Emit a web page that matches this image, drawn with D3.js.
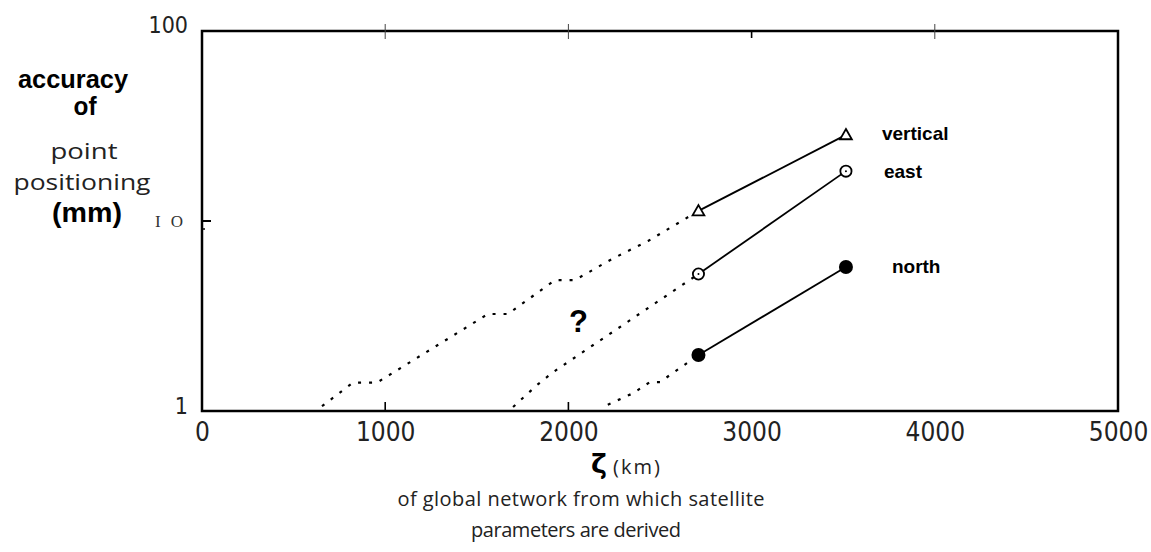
<!DOCTYPE html>
<html>
<head>
<meta charset="utf-8">
<script src="https://cdn.jsdelivr.net/npm/d3@7"></script>
<style>
  body { margin:0; background:#fff; }
  .tick-label { font-family:"Liberation Sans Narrow","DejaVu Sans Condensed",sans-serif; font-size:26px; fill:#222; }
  .thin { font-family:"Open Sans","DejaVu Sans",sans-serif; fill:#222; }
  .bold { font-family:"Liberation Sans",Arial,sans-serif; font-weight:bold; fill:#000; }
</style>
</head>
<body>
<div class="canvas"></div>
<script>
var pageWidth = 1151,
    pageHeight = 552;
var margins = {t:31,r:33,b:141,l:202};
var plotWidth = pageWidth - margins.l - margins.r,
    plotHeight = pageHeight - margins.t - margins.b;

// data
var seriesNames = ['vertical','east','north'];
var measuredKm = [2710, 3515];
var verticalMm = [11.3, 28.4];
var eastMm = [5.26, 18.3];
var northMm = [1.97, 5.73];

// dotted "?" extrapolations
var verticalGuessKm = [655, 824, 955, 1561, 1670, 1927, 2036, 2238, 2435, 2710];
var verticalGuessMm = [1.06, 1.41, 1.41, 3.24, 3.24, 4.89, 4.89, 6.31, 7.85, 11.3];
var eastGuessKm = [1698, 1829, 1916, 2710];
var eastGuessMm = [1.05, 1.37, 1.60, 5.26];
var northGuessKm = [2215, 2353, 2445, 2500, 2710];
var northGuessMm = [1.08, 1.24, 1.42, 1.42, 1.97];

var xTickValues = [0, 1000, 2000, 3000, 4000, 5000];
var yTickValues = [100, 10, 1];
var yTickLabels = ['100', 'I O', '1'];

var x = d3.scaleLinear().domain([0,5000]).range([0,plotWidth]);
var y = d3.scaleLog().domain([1,100]).range([plotHeight,0]);

var svg = d3.select('.canvas')
    .append('svg')
    .attr('width',pageWidth)
    .attr('height',pageHeight);

var plot = svg.append('g')
    .attr('transform','translate('+margins.l+','+margins.t+')');

// frame
plot.append('rect')
    .attr('width',plotWidth)
    .attr('height',plotHeight)
    .style('fill','none')
    .style('stroke','#000')
    .style('stroke-width',2.5);

// tick marks (uneven, like the original)
plot.selectAll('.top-tick')
    .data([1000,2000,4000])
    .enter().append('line')
    .attr('x1',function(d){return x(d);}).attr('x2',function(d){return x(d);})
    .attr('y1',-7).attr('y2',8)
    .style('stroke','#444').style('stroke-width',1);
plot.append('line')
    .attr('x1',x(3000)).attr('x2',x(3000))
    .attr('y1',0).attr('y2',7)
    .style('stroke','#000').style('stroke-width',1.6);
plot.selectAll('.bottom-tick')
    .data([1000,2000])
    .enter().append('line')
    .attr('x1',function(d){return x(d);}).attr('x2',function(d){return x(d);})
    .attr('y1',plotHeight).attr('y2',plotHeight-9)
    .style('stroke','#000').style('stroke-width',1.6);
plot.append('line')
    .attr('x1',0).attr('x2',9)
    .attr('y1',y(10)).attr('y2',y(10))
    .style('stroke','#000').style('stroke-width',2);
plot.append('line')
    .attr('x1',0).attr('x2',3)
    .attr('y1',y(10)+8).attr('y2',y(10)+8)
    .style('stroke','#000').style('stroke-width',1.5);

// axis labels through d3 axes
var xAxis = plot.append('g')
    .attr('transform','translate(0,'+plotHeight+')')
    .call(d3.axisBottom(x).tickValues(xTickValues).tickSize(0).tickPadding(14).tickFormat(d3.format('d')));
var yAxis = plot.append('g')
    .call(d3.axisLeft(y).tickValues(yTickValues).tickSize(0).tickPadding(14)
        .tickFormat(function(d,i){return yTickLabels[i];}));
xAxis.select('.domain').remove();
yAxis.select('.domain').remove();
xAxis.selectAll('text').attr('class','tick-label').attr('font-size',null).attr('font-family',null)
    .attr('dy','0.71em').attr('y',12);
yAxis.selectAll('text').attr('class','tick-label').attr('font-family',null).attr('dy','0.35em');
yAxis.selectAll('.tick').filter(function(d){return d===10;}).select('text')
    .attr('class',null)
    .style('font-family','"Liberation Serif",serif')
    .style('font-size','17px')
    .style('fill','#333')
    .attr('x',-19)
    .attr('dy','0.3em')
    .attr('textLength',28).attr('lengthAdjust','spacing');
yAxis.selectAll('.tick').filter(function(d){return d===100;}).select('text')
    .style('font-size','23px').attr('dy','0.05em');
yAxis.selectAll('.tick').filter(function(d){return d===1;}).select('text')
    .style('font-size','23px').attr('dy','0.1em');

// dotted extrapolations
var line = d3.line()
    .x(function(d){return x(d[0]);})
    .y(function(d){return y(d[1]);});

var guesses = [
    d3.zip(verticalGuessKm, verticalGuessMm),
    d3.zip(eastGuessKm, eastGuessMm),
    d3.zip(northGuessKm, northGuessMm)
];
plot.selectAll('.guess')
    .data(guesses)
    .enter().append('path')
    .attr('class','guess')
    .attr('d',line)
    .style('fill','none')
    .style('stroke','#000')
    .style('stroke-width',2.2)
    .style('stroke-dasharray','3,8');

// measured segments
var measured = [
    d3.zip(measuredKm, verticalMm),
    d3.zip(measuredKm, eastMm),
    d3.zip(measuredKm, northMm)
];
plot.selectAll('.measured')
    .data(measured)
    .enter().append('path')
    .attr('class','measured')
    .attr('d',line)
    .style('fill','none')
    .style('stroke','#000')
    .style('stroke-width',1.8);

// markers
var tri = d3.symbol().type(d3.symbolTriangle).size(60);
plot.selectAll('.tri')
    .data(measured[0])
    .enter().append('path')
    .attr('d',tri)
    .attr('transform',function(d){return 'translate('+x(d[0])+','+(y(d[1])+1)+')';})
    .style('fill','#fff').style('stroke','#000').style('stroke-width',1.8);

plot.selectAll('.open-dot')
    .data(measured[1])
    .enter().append('circle')
    .attr('cx',function(d){return x(d[0]);})
    .attr('cy',function(d){return y(d[1]);})
    .attr('r',5.6)
    .style('fill','#fff').style('stroke','#000').style('stroke-width',1.8);
plot.selectAll('.centre-dot')
    .data(measured[1])
    .enter().append('circle')
    .attr('cx',function(d){return x(d[0]);})
    .attr('cy',function(d){return y(d[1]);})
    .attr('r',1)
    .style('fill','#000');

plot.selectAll('.full-dot')
    .data(measured[2])
    .enter().append('circle')
    .attr('cx',function(d){return x(d[0]);})
    .attr('cy',function(d){return y(d[1]);})
    .attr('r',7)
    .style('fill','#000');

// series labels next to the last points
var labelNudge = [[36,5],[38,7],[46,6]];
var lastValues = [verticalMm[1], eastMm[1], northMm[1]];
plot.selectAll('.series-label')
    .data(seriesNames)
    .enter().append('text')
    .attr('class','bold')
    .attr('x',function(d,i){return x(measuredKm[1])+labelNudge[i][0];})
    .attr('y',function(d,i){return y(lastValues[i])+labelNudge[i][1];})
    .style('font-size','19px')
    .text(function(d){return d;});

plot.append('text')
    .attr('class','bold')
    .attr('x',x(2055))
    .attr('y',y(2.6))
    .attr('text-anchor','middle')
    .style('font-size','31px')
    .text('?');

// y title
var yTitle = [
    {t:'accuracy', cls:'bold', size:25, x:73, y:88, len:110},
    {t:'of', cls:'bold', size:25, x:85, y:115, len:23},
    {t:'point', cls:'thin', size:21, x:84, y:159, len:67},
    {t:'positioning', cls:'thin', size:21, x:82, y:190, len:137},
    {t:'(mm)', cls:'bold', size:28, x:87, y:222, len:70}
];
svg.selectAll('.y-title')
    .data(yTitle)
    .enter().append('text')
    .attr('class',function(d){return d.cls;})
    .attr('x',function(d){return d.x;})
    .attr('y',function(d){return d.y;})
    .attr('text-anchor','middle')
    .attr('textLength',function(d){return d.len;})
    .attr('lengthAdjust','spacingAndGlyphs')
    .style('font-size',function(d){return d.size+'px';})
    .text(function(d){return d.t;});

// x title
svg.append('text')
    .attr('class','bold')
    .attr('x',599)
    .attr('y',473)
    .attr('text-anchor','middle')
    .style('font-family','"DejaVu Sans",sans-serif')
    .style('font-size','27px')
    .text('\u03b6');
svg.append('text')
    .attr('class','thin')
    .attr('x',613)
    .attr('y',474)
    .attr('textLength',47)
    .attr('lengthAdjust','spacing')
    .style('font-size','20px')
    .text('(km)');
svg.append('text')
    .attr('class','thin')
    .attr('x',581)
    .attr('y',506)
    .attr('text-anchor','middle')
    .attr('textLength',367)
    .attr('lengthAdjust','spacing')
    .style('font-size','20px')
    .text('of global network from which satellite');
svg.append('text')
    .attr('class','thin')
    .attr('x',576)
    .attr('y',537)
    .attr('text-anchor','middle')
    .attr('textLength',210)
    .attr('lengthAdjust','spacing')
    .style('font-size','20px')
    .text('parameters are derived');
</script>
</body>
</html>
